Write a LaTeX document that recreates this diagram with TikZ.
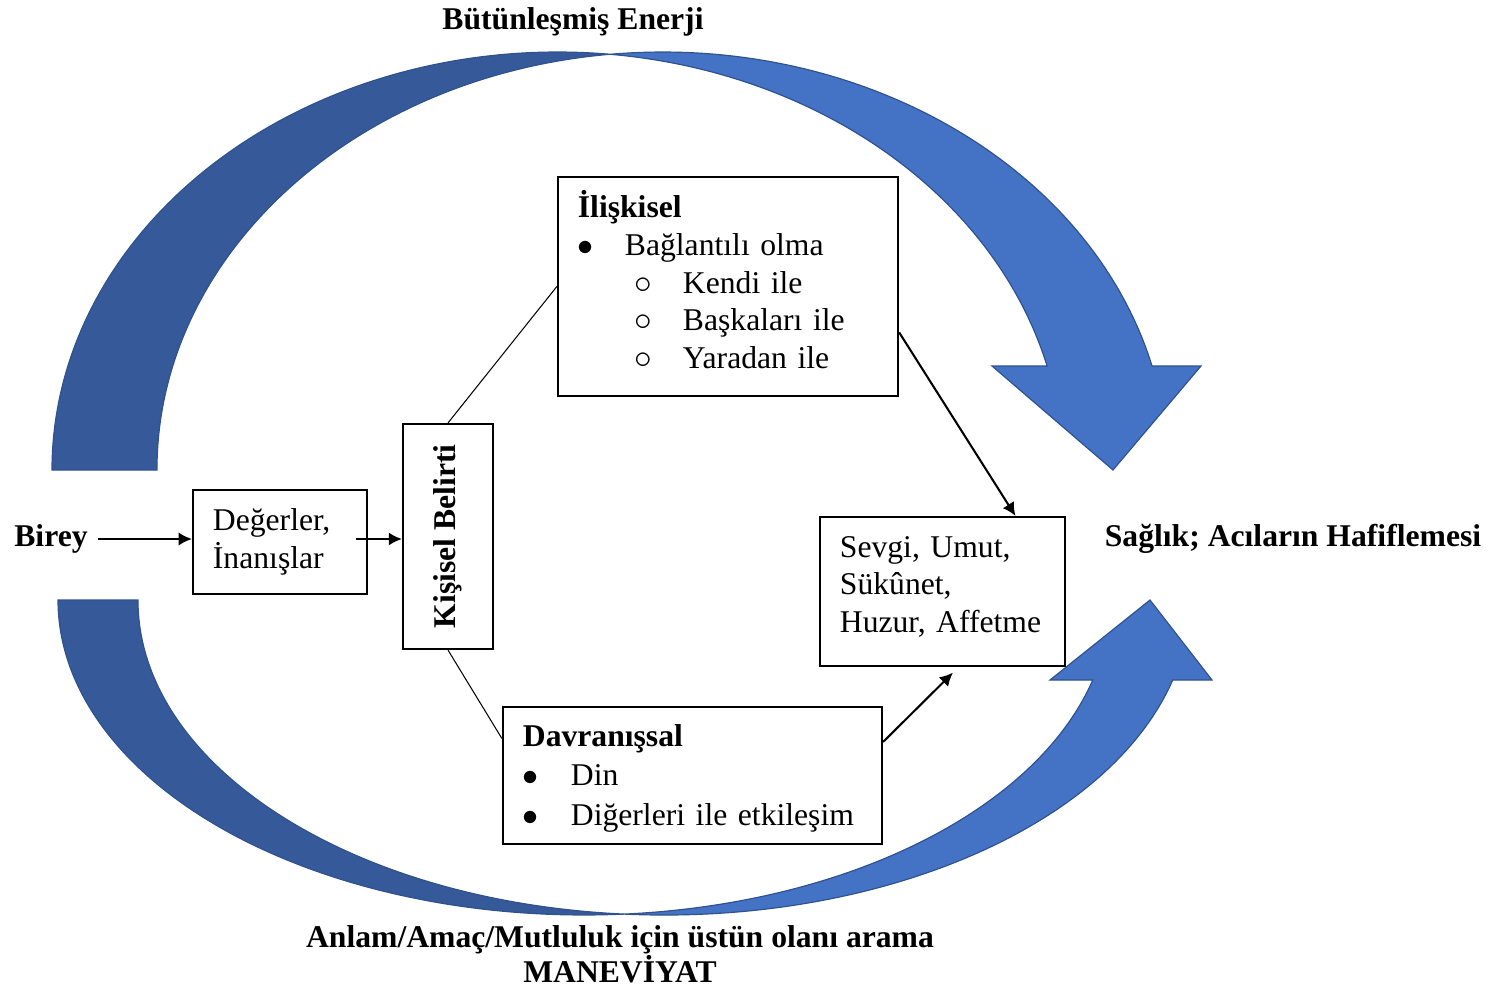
\documentclass[tikz,border=0pt]{standalone}
\usepackage{fontspec}
\setmainfont{Liberation Serif}
\usetikzlibrary{arrows.meta}

\definecolor{backblue}{RGB}{53,89,153}
\definecolor{frontblue}{RGB}{68,114,196}
\definecolor{edgeblue}{RGB}{47,82,143}

\newcommand{\dotmark}{$\bullet$}
\newcommand{\ringmark}{{\fontsize{12}{12}\selectfont$\circ$}}

\tikzstyle{box} = [rectangle, draw=black, line width=0.7pt, fill=white, align=left, inner xsep=0.24cm, inner ysep=0pt, font=\fontsize{10.8}{13}\selectfont]
\tikzstyle{heading} = [font=\fontsize{10.8}{12}\selectfont\bfseries, align=center]
\tikzstyle{arrow} = [line width=0.7pt,->,>={Latex[length=4.5pt,width=4.5pt]}]
\tikzstyle{link} = [line width=0.35pt]
\tikzstyle{backband} = [fill=backblue, draw=edgeblue, line width=0.4pt]
\tikzstyle{frontband} = [fill=frontblue, draw=edgeblue, line width=0.4pt]

\begin{document}
\begin{tikzpicture}[x=0.012cm, y=-0.012cm]
        \useasboundingbox (0,0) rectangle (1495,990);

        \draw [backband] (52,470) arc [start angle=180, end angle=275.96, x radius=505.5, y radius=418] arc [start angle=264.04, end angle=180, x radius=505.5, y radius=418] -- cycle;
        \draw [frontband] (610,54.3) arc [start angle=264.04, end angle=345.59, x radius=505.5, y radius=418] -- (1201,366) -- (1113,470) -- (992,366) -- (1047.1,366) arc [start angle=345.59, end angle=275.96, x radius=505.5, y radius=418] -- cycle;
        \draw [backband] (58,600) arc [start angle=180, end angle=85.64, x radius=526, y radius=315] arc [start angle=94.36, end angle=180, x radius=526, y radius=315] -- cycle;
        \draw [frontband] (624,914.1) arc [start angle=94.36, end angle=14.71, x radius=526, y radius=315] -- (1212,680) -- (1150,600) -- (1050,680) -- (1092.8,680) arc [start angle=14.71, end angle=85.64, x radius=526, y radius=315] -- cycle;

        \node (birey) [heading] at (51,539) {Birey};
        \node (degerler) [box, text width=1.608cm, minimum height=1.248cm] at (280,542) {Değerler,\\İnanışlar};
        \node (kisisel) [box, rotate=90, minimum width=2.7cm, minimum height=1.08cm, font=\fontsize{10.8}{13}\selectfont\bfseries] at (448,536.5) {Kişisel Belirti};
        \node (iliskisel) [box, text width=3.6cm, minimum height=2.628cm, font=\fontsize{10.8}{12.9}\selectfont] at (728,286.5) {\textbf{İlişkisel}\\
            \makebox[0.564cm][l]{\dotmark}Bağlantılı olma\\
            \hspace*{0.68cm}\makebox[0.58cm][l]{\ringmark}Kendi ile\\
            \hspace*{0.68cm}\makebox[0.58cm][l]{\ringmark}Başkaları ile\\
            \hspace*{0.68cm}\makebox[0.58cm][l]{\ringmark}Yaradan ile\rule[-0.168cm]{0pt}{0pt}};
        \node (davranissal) [box, text width=4.068cm, minimum height=1.644cm, font=\fontsize{10.8}{13.5}\selectfont] at (692.5,775.5) {\rule{0pt}{0.33cm}\textbf{Davranışsal}\\
            \makebox[0.576cm][l]{\dotmark}Din\\
            \makebox[0.576cm][l]{\dotmark}Diğerleri ile etkileşim};
        \node (sevgi) [box, text width=2.46cm, minimum height=1.788cm, font=\fontsize{10.8}{12.8}\selectfont] at (942.5,591.5) {Sevgi, Umut,\\Sükûnet,\\Huzur, Affetme\rule[-0.173cm]{0pt}{0pt}};
        \node (saglik) [heading] at (1293,539) {Sağlık; Acıların Hafiflemesi};
        \node (enerji) [heading] at (573,22) {Bütünleşmiş Enerji};
        \node (maneviyat) [heading] at (620,954.5) {Anlam/Amaç/Mutluluk için üstün olanı arama\\MANEVİYAT};

        \draw [arrow] (birey.east) -- (birey.east -| degerler.west);
        \draw [arrow] ([xshift=-0.14cm]degerler.east |- birey.east) -- (birey.east -| kisisel.north);
        \draw [link] (kisisel.east) -- (iliskisel.west);
        \draw [link] (kisisel.west) -- (davranissal.169);
        \draw [arrow] (iliskisel.-15) -- (sevgi.46);
        \draw [arrow, shorten >=2.7pt] (davranissal.10) -- (sevgi.-78);

\end{tikzpicture}
\end{document}
